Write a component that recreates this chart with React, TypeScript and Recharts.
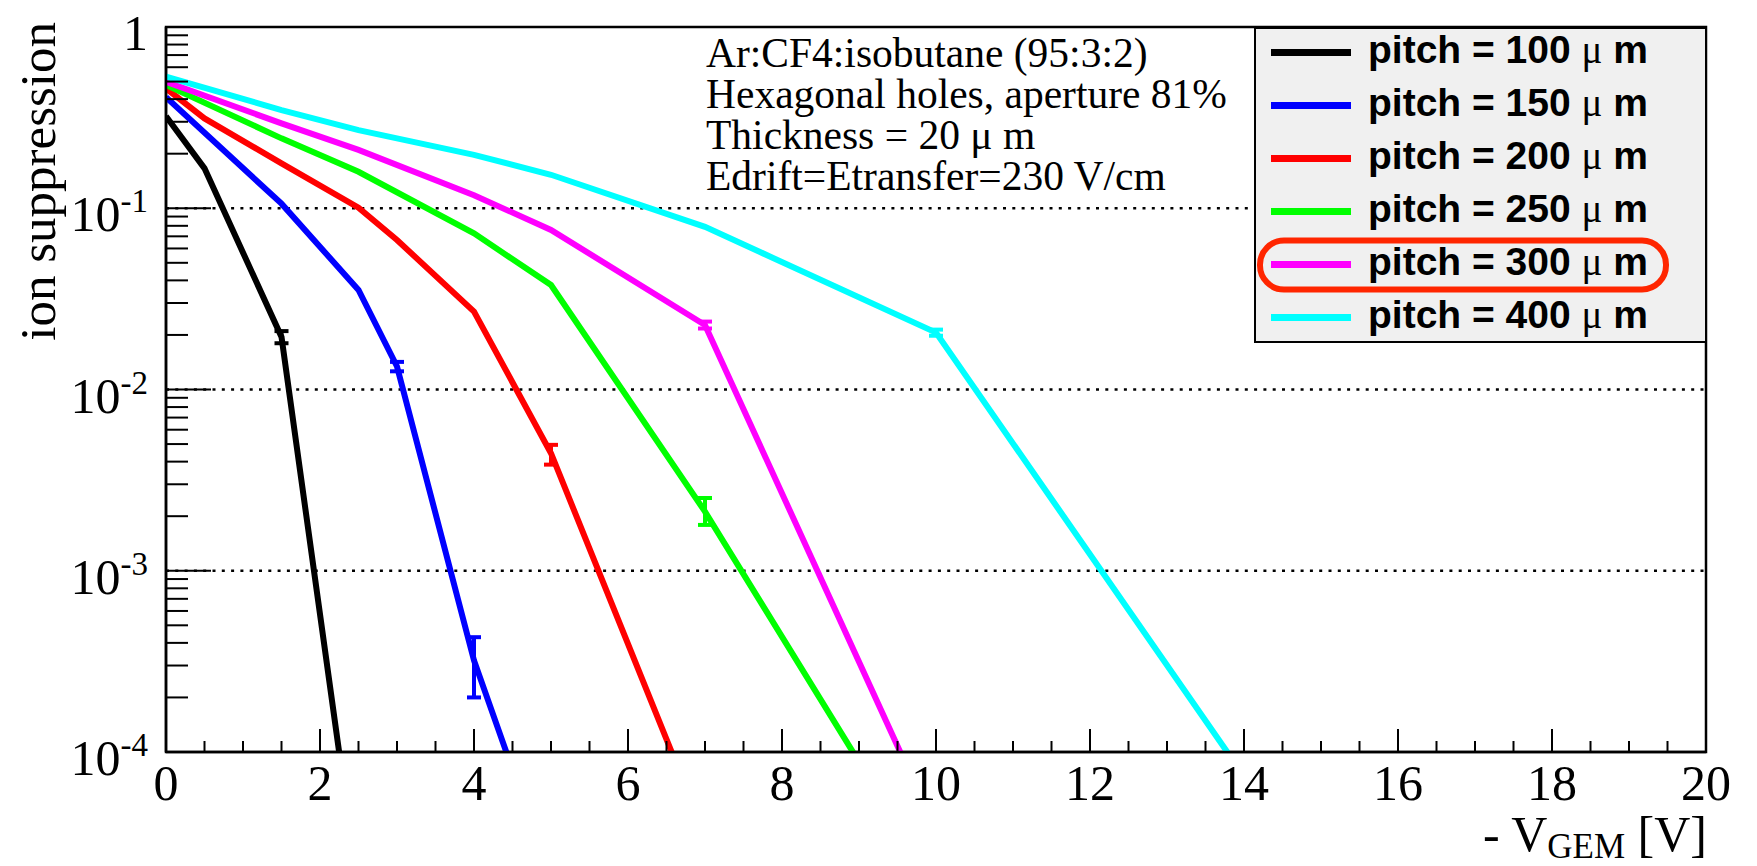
import React from 'react';
import {
  LineChart,
  Line,
  XAxis,
  YAxis,
  ErrorBar,
  ReferenceLine,
  ReferenceArea,
} from 'recharts';

const SERIF = '"Liberation Serif", "Times New Roman", serif';
const SANS = '"Liberation Sans", Arial, sans-serif';

// scan points, - V_GEM [V] -> ion suppression, err = [down, up] (null = too small to see)
const X_100 = [0, 0.5, 1.5, 2.5];
const Y_100 = [0.322, 0.166, 0.0195, 1.7e-5];
const E_100 = [null, null, [0.0015, 0.0015], null];

const X_150 = [0, 1.5, 2.5, 3, 4, 5];
const Y_150 = [0.41, 0.106, 0.0354, 0.0134, 3.2e-4, 2.0e-5];
const E_150 = [null, null, null, [0.0008, 0.0008], [1.2e-4, 1.1e-4], null];

const X_200 = [0, 0.5, 1.5, 2.5, 3, 4, 5, 7];
const Y_200 = [0.458, 0.313, 0.177, 0.1007, 0.0668, 0.0269, 0.00445, 3.5e-5];
const E_200 = [null, null, null, null, null, null, [0.0006, 0.0005], null];

const X_250 = [0, 1.5, 2.5, 4, 5, 7, 10];
const Y_250 = [0.479, 0.243, 0.159, 0.0727, 0.0377, 0.00212, 1.8e-5];
const E_250 = [null, null, null, null, null, [0.00033, 0.0004], null];

const X_300 = [0, 1.5, 2.5, 4, 5, 7, 10];
const Y_300 = [0.499, 0.294, 0.21, 0.118, 0.0759, 0.0227, 3.7e-5];
const E_300 = [null, null, null, null, null, [0.001, 0.001], null];

const X_400 = [0, 1.5, 2.5, 4, 5, 7, 10, 15];
const Y_400 = [0.532, 0.348, 0.27, 0.197, 0.153, 0.079, 0.0206, 1.8e-5];
const E_400 = [null, null, null, null, null, null, [0.0008, 0.0008], null];

const PITCHES = ['100', '150', '200', '250', '300', '400'];
const COLORS = ['#000000', '#0000ff', '#ff0000', '#00ff00', '#ff00ff', '#00ffff'];
const HIGHLIGHT = '300';

const X_MAJOR = [0, 2, 4, 6, 8, 10, 12, 14, 16, 18, 20];
const Y_MAJOR = [1e-4, 1e-3, 1e-2, 1e-1, 1];
const Y_GRID = [1e-1, 1e-2, 1e-3];

const ANNOTATION = [
  'Ar:CF4:isobutane (95:3:2)',
  'Hexagonal holes, aperture 81%',
  'Thickness = 20 \u03bc m',
  'Edrift=Etransfer=230 V/cm',
];

const rows = (xs: number[], ys: number[], es: (number[] | null)[]) =>
  xs.map((x, i) => ({ x, y: ys[i], err: es[i] ?? undefined }));

const SERIES = [
  rows(X_100, Y_100, E_100),
  rows(X_150, Y_150, E_150),
  rows(X_200, Y_200, E_200),
  rows(X_250, Y_250, E_250),
  rows(X_300, Y_300, E_300),
  rows(X_400, Y_400, E_400),
];

// minor ticks: every 0.5 on x, 2..9 per decade on y
const X_TICKS: number[] = [];
for (let i = 0; i <= 40; i++) X_TICKS.push(i / 2);
const Y_TICKS: number[] = [...Y_MAJOR];
for (let d = -4; d < 0; d++) for (let m = 2; m <= 9; m++) Y_TICKS.push(m * Math.pow(10, d));
Y_TICKS.sort((a, b) => a - b);

const W = 1757;
const H = 866;

function XTick({ x, y, payload }: any) {
  const v = payload.value;
  const major = X_MAJOR.includes(v);
  return (
    <g>
      <line x1={x} y1={y} x2={x} y2={y - (major ? 23 : 11)} stroke="#000" strokeWidth={2} />
      {major && (
        <text x={x} y={y + 48} textAnchor="middle" fontFamily={SERIF} fontSize={50} fill="#000">
          {v}
        </text>
      )}
    </g>
  );
}

function YTick({ x, y, payload }: any) {
  const v = payload.value;
  const e = Math.round(Math.log10(v));
  const major = Math.abs(Math.log10(v) - e) < 1e-6;
  return (
    <g>
      <line x1={x} y1={y} x2={x + (major ? 45 : 22)} y2={y} stroke="#000" strokeWidth={2} />
      {major && (
        <text x={x - 18} y={y + 23} textAnchor="end" fontFamily={SERIF} fontSize={50} fill="#000">
          {e === 0 ? (
            '1'
          ) : (
            <>
              10
              <tspan dy={-19} fontSize={33}>
                {String(e)}
              </tspan>
            </>
          )}
        </text>
      )}
    </g>
  );
}

function Overlay() {
  const lx = 1255;
  const ly = 28;
  const rowY = (i: number) => 52.5 + i * 53;
  return (
    <svg
      width={W}
      height={H}
      style={{ position: 'absolute', left: 0, top: 0, pointerEvents: 'none' }}
    >
      {/* axis titles */}
      <text
        transform="translate(55,22) rotate(-90)"
        textAnchor="end"
        fontFamily={SERIF}
        fontSize={51}
        fill="#000"
      >
        ion suppression
      </text>
      <text x={1707} y={851} textAnchor="end" fontFamily={SERIF} fontSize={50} fill="#000">
        - V
        <tspan fontSize={35} dy={7}>GEM</tspan>
        <tspan dy={-7}> [V]</tspan>
      </text>

      {/* run conditions */}
      {ANNOTATION.map((t, i) => (
        <text key={t} x={706} y={67 + i * 41} fontFamily={SERIF} fontSize={41.5} fill="#000">
          {t}
        </text>
      ))}

      {/* legend */}
      <rect x={lx} y={ly} width={451} height={314} fill="#f0f0f0" stroke="#000" strokeWidth={2} />
      {PITCHES.map((p, i) => (
        <g key={p}>
          <line x1={1271} x2={1351} y1={rowY(i)} y2={rowY(i)} stroke={COLORS[i]} strokeWidth={7} />
          <text x={1368} y={rowY(i) + 10} fontFamily={SANS} fontWeight="bold" fontSize={39} fill="#000">
            {`pitch = ${p} `}
            <tspan fontFamily={SERIF} fontWeight="normal">{'\u03bc'}</tspan>
            {' m'}
          </text>
          {p === HIGHLIGHT && (
            <rect
              x={1260}
              y={rowY(i) - 24}
              width={406}
              height={49}
              rx={24}
              fill="none"
              stroke="#ff2600"
              strokeWidth={6}
            />
          )}
        </g>
      ))}
    </svg>
  );
}

export default function App() {
  return (
    <div style={{ position: 'absolute', left: 0, top: 0, width: W, height: H, background: '#fff' }}>
      <LineChart width={W} height={H} margin={{ top: 27, right: 51, left: 0, bottom: 0 }}>
        <XAxis
          type="number"
          dataKey="x"
          domain={[0, 20]}
          ticks={X_TICKS}
          interval={0}
          allowDataOverflow
          height={114}
          tickSize={0}
          tickMargin={0}
          tickLine={false}
          axisLine={{ stroke: '#000', strokeWidth: 2.5 }}
          tick={<XTick />}
        />
        <YAxis
          type="number"
          dataKey="y"
          scale="log"
          domain={[1e-4, 1]}
          ticks={Y_TICKS}
          interval={0}
          allowDataOverflow
          width={166}
          tickSize={0}
          tickMargin={0}
          tickLine={false}
          axisLine={{ stroke: '#000', strokeWidth: 2.5 }}
          tick={<YTick />}
        />
        <ReferenceArea x1={0} x2={20} y1={1e-4} y2={1} fill="none" stroke="#000" strokeWidth={2.5} />
        {Y_GRID.map((g) => (
          <ReferenceLine key={g} y={g} stroke="#000" strokeWidth={2.5} strokeDasharray="3 6.3" />
        ))}
        {SERIES.map((data, i) => (
          <Line
            key={PITCHES[i]}
            data={data}
            dataKey="y"
            type="linear"
            stroke={COLORS[i]}
            strokeWidth={6}
            dot={false}
            isAnimationActive={false}
          >
            <ErrorBar dataKey="err" direction="y" width={7} stroke={COLORS[i]} strokeWidth={4} />
          </Line>
        ))}
      </LineChart>
      <Overlay />
    </div>
  );
}
